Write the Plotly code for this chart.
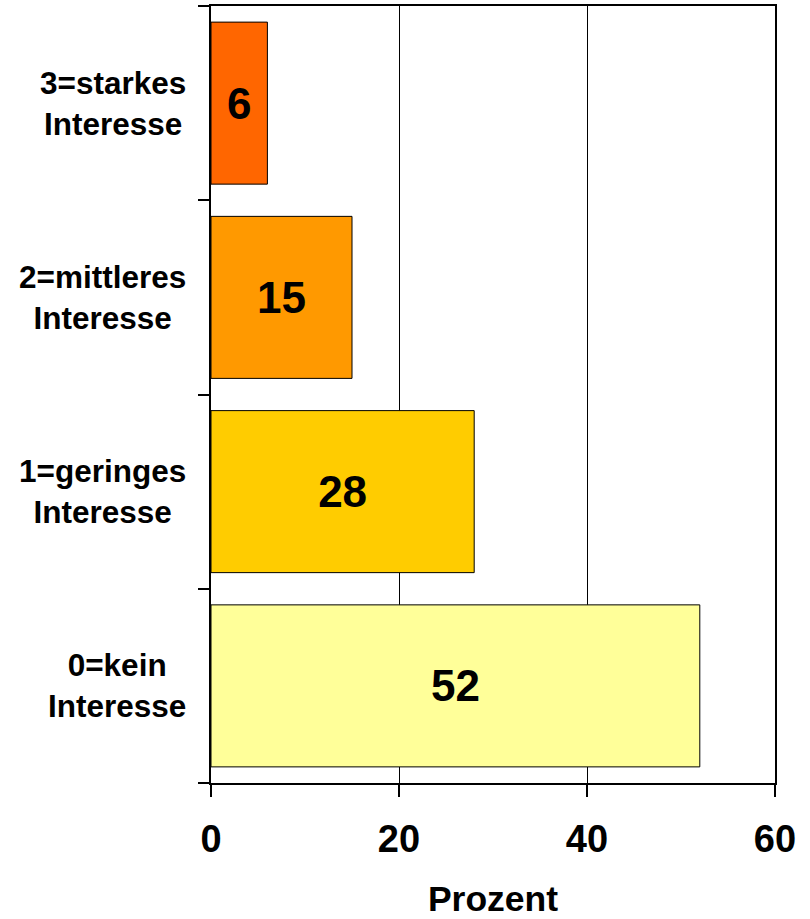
import plotly.graph_objects as go

categories = ["0=kein<br>Interesse", "1=geringes<br>Interesse", "2=mittleres<br>Interesse", "3=starkes<br>Interesse"]
values = [52, 28, 15, 6]
colors = ["#FFFF99", "#FFCC00", "#FF9900", "#FF6600"]
x_ticks = [0, 20, 40, 60]
x_title = "Prozent"

FONT = "Liberation Sans, Arial, sans-serif"

fig = go.Figure()
fig.add_trace(go.Bar(
    y=list(range(len(categories))),
    x=values,
    orientation="h",
    width=0.834,
    marker=dict(color=colors, line=dict(color="black", width=1)),
    text=[str(v) for v in values],
    textposition="inside",
    insidetextanchor="middle",
    textangle=0,
    textfont=dict(family=FONT, size=44, color="black", weight="bold"),
    hoverinfo="skip",
))

annotations = []
for i, lab in enumerate(categories):
    annotations.append(dict(
        x=0, xref="paper", y=i, yref="y",
        text=f"<b>{lab}</b>", showarrow=False,
        xanchor="right", yanchor="middle", align="center",
        xshift=-23,
        font=dict(family=FONT, size=31.5, color="black"),
    ))

fig.update_layout(
    width=810, height=919,
    margin=dict(l=211, r=35, t=6, b=136),
    paper_bgcolor="white", plot_bgcolor="white",
    showlegend=False,
    annotations=annotations,
    xaxis=dict(
        range=[0, 60], tickvals=x_ticks, ticktext=[str(t) for t in x_ticks],
        showgrid=True, gridcolor="black", gridwidth=1,
        showline=True, linecolor="black", linewidth=2, mirror=True,
        ticks="outside", ticklen=12, tickcolor="black", tickwidth=1.5,
        tickfont=dict(family=FONT, size=38, color="black", weight="bold"),
        ticklabelstandoff=9,
        automargin=False,
        zeroline=False,
        title=dict(text=x_title, font=dict(family=FONT, size=35.5, color="black", weight="bold"), standoff=36),
    ),
    yaxis=dict(
        range=[-0.5, 3.5], tickmode="array", tickvals=[-0.5, 0.5, 1.5, 2.5, 3.5],
        showticklabels=False, showgrid=False,
        showline=True, linecolor="black", linewidth=2, mirror=True,
        ticks="outside", ticklen=11, tickcolor="black", tickwidth=1.5,
        automargin=False,
        zeroline=False,
    ),
)

fig.write_html("out.html", config={"displayModeBar": False},
               post_script="document.body.style.margin='0';")
